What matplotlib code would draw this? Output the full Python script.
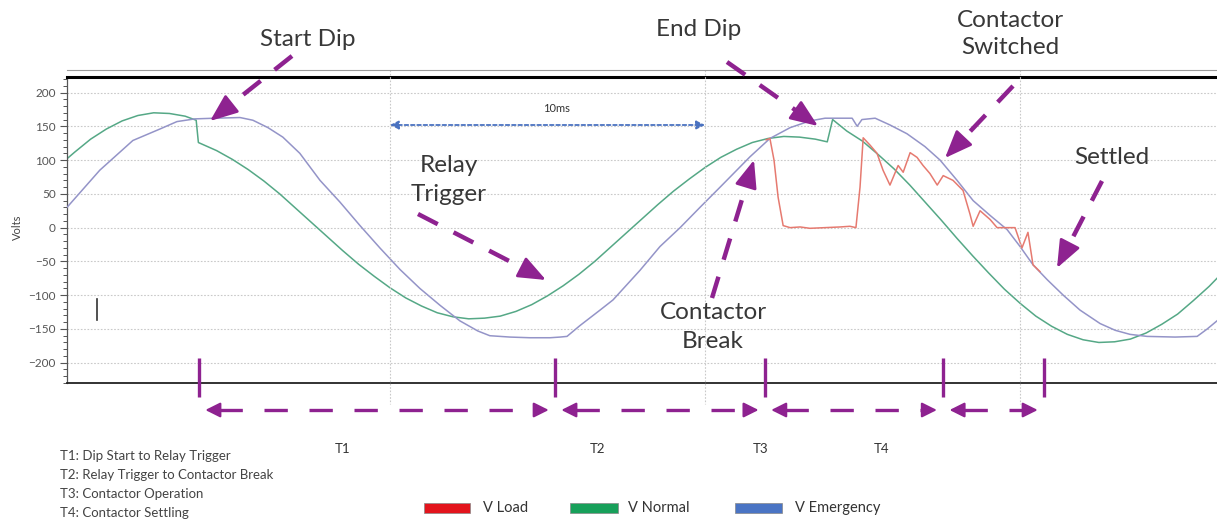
import matplotlib.pyplot as plt
from matplotlib import transforms
from matplotlib.patches import Rectangle
import numpy as np

# traces: time in ms, voltage in V
t_normal = [-0.25, 0.0, 0.5, 1.0, 1.5, 2.0, 2.5, 3.0, 3.5, 3.85, 3.92, 4.5, 5.0, 5.5,
            6.0, 6.5, 7.0, 7.5, 8.0, 8.5, 9.0, 9.5, 10.0, 10.5, 11.0, 11.5, 12.0, 12.5,
            13.0, 13.5, 14.0, 14.5, 15.0, 15.5, 16.0, 16.5, 17.0, 17.5, 18.0, 18.5, 19.0,
            19.5, 20.0, 20.5, 21.0, 21.5, 22.0, 22.5, 23.0, 23.5, 23.88, 24.05, 24.5, 25.0,
            25.5, 26.0, 26.5, 27.0, 27.5, 28.0, 28.5, 29.0, 29.5, 30.0, 30.5, 31.0, 31.5,
            32.0, 32.5, 33.0, 33.5, 34.0, 34.5, 35.0, 35.5, 36.0, 36.25]
v_normal = [102, 112, 131, 146, 158, 166, 170, 169, 165, 159, 126, 114, 101, 86,
            69, 50, 29, 8, -13, -34, -54, -72, -89, -104, -116, -126, -132, -135,
            -134, -131, -124, -114, -101, -86, -69, -50, -29, -8, 13, 34, 54,
            72, 89, 104, 116, 126, 132, 135, 134, 131, 127, 160, 143, 128,
            108, 87, 63, 37, 11, -16, -42, -67, -91, -112, -131, -146, -158,
            -166, -170, -169, -165, -156, -143, -128, -108, -87, -75]

t_emerg = [-0.25, 0.79, 1.84, 2.70, 3.24, 3.81, 4.44, 5.24, 5.65, 6.13, 6.60, 7.14, 7.78,
           8.41, 9.05, 9.68, 10.32, 10.95, 11.59, 12.22, 12.79, 13.17, 13.81, 14.44, 15.08,
           15.40, 15.62, 16.03, 16.67, 17.08, 17.94, 18.57, 19.21, 19.84, 20.48, 21.43,
           22.06, 22.70, 23.33, 23.81, 24.67, 24.83, 24.98, 25.40, 25.87, 26.41, 26.98,
           27.46, 28.00, 28.51, 29.05, 29.59, 30.00, 30.41, 30.86, 31.37, 31.90, 32.54,
           33.02, 33.49, 34.03, 34.92, 35.62, 35.94, 36.25]
v_emerg = [30, 85, 129, 146, 157, 161, 162, 163, 159, 148, 134, 110, 70,
           38, 3, -30, -62, -90, -115, -138, -153, -160, -162, -163, -163,
           -162, -161, -145, -122, -107, -63, -28, 0, 30, 60, 105,
           132, 148, 158, 162, 162, 150, 160, 162, 152, 139, 120,
           100, 70, 40, 18, -3, -28, -55, -77, -100, -122, -142,
           -152, -158, -161, -162, -161, -150, -138]

t_load = [21.94, 22.06, 22.19, 22.32, 22.48, 22.70, 23.02, 23.33, 23.81, 24.29, 24.60,
          24.79, 24.92, 25.02, 25.24, 25.46, 25.65, 25.87, 26.13, 26.29, 26.51, 26.73,
          26.92, 27.14, 27.37, 27.56, 27.87, 28.19, 28.41, 28.51, 28.73, 29.05, 29.27,
          29.84, 30.06, 30.25, 30.41, 30.63]
v_load = [130, 132, 100, 45, 3, 0, 1, -1, 0, 1, 2,
          0, 60, 133, 122, 110, 85, 63, 92, 82, 111, 104,
          92, 80, 63, 77, 70, 55, 20, 2, 25, 12, 0,
          0, -30, -7, -55, -65]

# event markers (ms) and interval labels
event_t = [3.94, 15.24, 21.90, 27.56, 30.76]
span_names = ["T1", "T2", "T3", "T4"]
span_label_t = [8.5, 16.6, 21.75, 25.6]
notes = ["T1: Dip Start to Relay Trigger",
         "T2: Relay Trigger to Contactor Break",
         "T3: Contactor Operation",
         "T4: Contactor Settling"]
legend_names = ["V Load", "V Normal", "V Emergency"]
legend_colors = ["#e3141c", "#17a05a", "#4a74c4"]
cursor_t, cursor_v = [0.70, 0.70], [-105, -137]

PURPLE = "#8e2290"
FONT = ["Lato", "DejaVu Sans"]
plt.rcParams["font.family"] = FONT

W, H = 1217, 524
fig = plt.figure(figsize=(W / 100, H / 100), dpi=100)
ax = fig.add_axes([67 / W, 1 - 383 / H, 1 - 67 / W, (383 - 77) / H])
ax.set_xlim(-0.25, 36.25)
ax.set_ylim(-230, 223)

# pixel overlay for callouts and the legend strip
ov = fig.add_axes([0, 0, 1, 1])
ov.set_xlim(0, W)
ov.set_ylim(H, 0)
ov.axis("off")
ov.patch.set_alpha(0)
bt = transforms.blended_transform_factory(ax.transData, ov.transData)

# grid
for v in range(-200, 201, 50):
    ax.axhline(v, color="#c9c9c9", lw=0.8, ls=(0, (1.5, 1.5)), zorder=0)
for t in (10, 20, 30):
    ov.plot([t, t], [70, 404], transform=bt, color="#c9c9c9", lw=0.8,
            ls=(0, (1.5, 1.5)), zorder=0)
ov.plot([67, W], [70, 70], color="#9a9a9a", lw=0.8)

# traces
ax.plot(t_normal, v_normal, color="#55a886", lw=1.1, zorder=2)
ax.plot(t_emerg, v_emerg, color="#9494c8", lw=1.1, zorder=3)
ax.plot(t_load, v_load, color="#e67a70", lw=1.1, zorder=4)
ax.plot(cursor_t, cursor_v, color="#333333", lw=1.2, zorder=4)

# axes styling
ax.set_xticks([])
ax.set_yticks(range(-200, 201, 50))
ax.set_yticks(range(-230, 221, 10), minor=True)
ax.tick_params(axis="y", which="major", length=5, width=0.8, color="#555555",
               labelsize=8.5, labelcolor="#555555", pad=3)
ax.tick_params(axis="y", which="minor", length=3, width=0.7, color="#555555")
ax.spines["right"].set_visible(False)
ax.spines["top"].set_linewidth(2.2)
ax.spines["top"].set_color("black")
ax.spines["bottom"].set_linewidth(1.3)
ax.spines["bottom"].set_color("#222222")
ax.spines["left"].set_linewidth(0.9)
ax.spines["left"].set_color("#555555")
ov.text(17, 227, "Volts", rotation=90, ha="center", va="center",
        fontsize=8, color="#444444")


def head(xy_tip, xy_base, trans, size, lw, ratio=0.4):
    ov.annotate("", xy=xy_tip, xytext=xy_base, xycoords=trans, textcoords=trans,
                arrowprops=dict(arrowstyle=f"-|>,head_length={size},head_width={size * ratio}",
                                color=PURPLE, lw=lw, shrinkA=0, shrinkB=0,
                                mutation_scale=20))


def callout(start, tip, head_px=24):
    s = np.array(start, float)
    e = np.array(tip, float)
    u = (e - s) / np.hypot(*(e - s))
    base = e - u * head_px
    ov.plot([s[0], base[0]], [s[1], base[1]], color=PURPLE, lw=3.2,
            dashes=(5, 4), dash_capstyle="butt")
    head(tuple(e), tuple(base), ov.transData, 0.85, 2.0)


# callout labels and arrows
cfs = 17.5
tc = "#383838"
ov.text(308, 40, "Start Dip", ha="center", va="center", fontsize=cfs, color=tc)
callout((292, 56), (210, 121))
ov.text(699, 30, "End Dip", ha="center", va="center", fontsize=cfs, color=tc)
callout((727, 62), (818, 126))
ov.text(1010, 34, "Contactor\nSwitched", ha="center", va="center", fontsize=cfs,
        color=tc, linespacing=1.4)
callout((1013, 86), (945, 158))
ov.text(449, 180, "Relay\nTrigger", ha="center", va="center", fontsize=cfs,
        color=tc, linespacing=1.5)
callout((418, 214), (546, 280))
ov.text(1112, 157, "Settled", ha="center", va="center", fontsize=cfs, color=tc)
callout((1102, 181), (1057, 268))
ov.text(713, 327, "Contactor\nBreak", ha="center", va="center", fontsize=cfs,
        color=tc, linespacing=1.5)
callout((712, 298), (754, 160))

# 10 ms span marker
ov.annotate("", xy=(20, 125), xytext=(10, 125), xycoords=bt, textcoords=bt,
            arrowprops=dict(arrowstyle="<|-|>,head_length=0.5,head_width=0.25",
                            color="#4a72c0", lw=1.3, ls=(0, (2, 1.5)),
                            shrinkA=0, shrinkB=0, mutation_scale=10))
ov.text(15.3, 108, "10ms", transform=bt, ha="center", va="center", fontsize=8,
        color="#333333")

# event ticks and interval arrows
for t in event_t:
    ov.plot([t, t], [358, 397], transform=bt, color=PURPLE, lw=2.4,
            solid_capstyle="butt")
gap, hl = 0.2, 0.45
for a, b in zip(event_t[:-1], event_t[1:]):
    x0, x1 = a + gap, b - gap
    ov.plot([x0 + hl, x1 - hl], [410, 410], transform=bt, color=PURPLE, lw=2.4,
            dashes=(7, 6.5), dash_capstyle="butt")
    head((x0, 410), (x0 + hl, 410), bt, 0.45, 1.6, ratio=0.5)
    head((x1, 410), (x1 - hl, 410), bt, 0.45, 1.6, ratio=0.5)
for name, t in zip(span_names, span_label_t):
    ov.text(t, 449, name, transform=bt, ha="center", va="center", fontsize=9.5,
            color="#333333")

# notes
for i, line in enumerate(notes):
    ov.text(60, 456 + 19 * i, line, ha="left", va="center", fontsize=9.5,
            color="#444444")

# legend strip
leg_x = [(424, 470, 483), (570, 618, 628), (735, 782, 795)]
for (x0, x1, tx), name, col in zip(leg_x, legend_names, legend_colors):
    ov.add_patch(Rectangle((x0, 503), x1 - x0, 10, facecolor=col,
                           edgecolor="#888888", lw=0.5))
    ov.text(tx, 508, name, ha="left", va="center", fontsize=10.5, color="#333333")

fig.savefig("out.png", dpi=100)
